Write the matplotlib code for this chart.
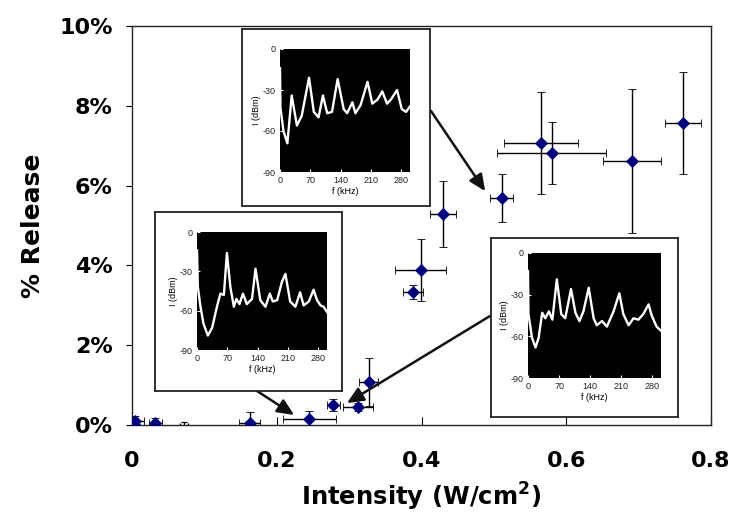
import matplotlib
matplotlib.use("Agg")
import matplotlib.pyplot as plt
from matplotlib.ticker import PercentFormatter

plt.rcParams['font.family'] = ['DejaVu Sans']
plt.rcParams['axes.unicode_minus'] = False

# ---------------- data ----------------
intensity = [0.004, 0.003, 0.032, 0.163, 0.245, 0.278, 0.312, 0.327, 0.388,
             0.399, 0.430, 0.511, 0.565, 0.580, 0.691, 0.761]
release = [0.0010, 0.0003, 0.0005, 0.0005, 0.0015, 0.0050, 0.0045, 0.0108,
           0.0333, 0.0388, 0.0529, 0.0569, 0.0707, 0.0682, 0.0662, 0.0757]
intensity_err = [0.012, 0.004, 0.009, 0.0145, 0.037, 0.009, 0.021, 0.013,
                 0.014, 0.035, 0.018, 0.016, 0.051, 0.075, 0.040, 0.025]
release_err = [0.0012, 0.0005, 0.0013, 0.0028, 0.0020, 0.0015, 0.0010, 0.0060,
               0.0018, 0.0078, 0.0083, 0.0061, 0.0128, 0.0078, 0.0180, 0.0127]

# point whose marker is hidden (only error bars visible)
hidden_x = [0.072]
hidden_y = [-0.0002]
hidden_xerr = [0.0055]
hidden_yerr = [0.0010]

x_ticks = [0, 0.2, 0.4, 0.6, 0.8]
x_tick_labels = ['0', '0.2', '0.4', '0.6', '0.8']
y_ticks = [0, 0.02, 0.04, 0.06, 0.08, 0.10]

# spectra shown in the insets (frequency kHz, level dBm)
specA_f = [0, 1, 8, 17, 27, 39, 50, 67, 78, 89, 99, 109, 120, 133, 147, 155,
           167, 174, 186, 202, 213, 225, 236, 247, 256, 270, 281, 291, 300]
specA_db = [-14, -43, -60, -69, -34, -56, -49, -21, -46, -50, -34, -47, -46,
            -22, -44, -47, -39, -47, -41, -24, -40, -37, -31, -40, -37, -30,
            -44, -46, -42]

specB_f = [0, 2, 8, 15, 25, 35, 46, 54, 62, 69, 77, 85, 91, 98, 106, 115, 127,
           135, 146, 158, 168, 175, 185, 196, 204, 215, 227, 238, 246, 258,
           269, 277, 285, 292, 300]
specB_db = [-14, -42, -57, -70, -79, -73, -57, -47, -48, -16, -42, -57, -51,
            -55, -47, -55, -51, -28, -52, -57, -47, -53, -52, -38, -32, -53,
            -57, -46, -56, -53, -44, -52, -56, -57, -61]

specC_f = [0, 1, 9, 17, 24, 32, 39, 47, 55, 65, 75, 84, 97, 107, 116, 125,
           137, 148, 155, 167, 178, 193, 206, 215, 227, 238, 249, 260, 272,
           279, 290, 300]
specC_db = [-13, -44, -61, -68, -61, -43, -47, -42, -48, -19, -44, -47, -26,
            -43, -49, -42, -25, -47, -52, -49, -53, -42, -29, -44, -52, -47,
            -48, -44, -37, -45, -53, -56]

spec_xticks = [0, 70, 140, 210, 280]
spec_yticks = [0, -30, -60, -90]

# ---------------- figure ----------------
W, H = 730, 518
fig = plt.figure(figsize=(W / 100, H / 100), dpi=100)


def px_rect(x0, y0, x1, y1):
    return [x0 / W, 1 - y1 / H, (x1 - x0) / W, (y1 - y0) / H]


ax = fig.add_axes(px_rect(132, 26, 711, 425))
navy = '#00007A'
ax.errorbar(intensity, release, xerr=intensity_err, yerr=release_err,
            fmt='D', color=navy, markersize=6, markeredgewidth=0.6,
            markeredgecolor=navy, ecolor='black', elinewidth=1.0,
            capsize=3, capthick=1.0, zorder=3)
ax.errorbar(hidden_x, hidden_y, xerr=hidden_xerr, yerr=hidden_yerr,
            fmt='none', ecolor='black', elinewidth=0.9, capsize=2.5,
            capthick=0.9, zorder=3)

ax.set_xlim(0, 0.8)
ax.set_ylim(0, 0.10)
ax.set_xticks(x_ticks)
ax.set_xticklabels(x_tick_labels)
ax.set_yticks(y_ticks)
ax.yaxis.set_major_formatter(PercentFormatter(1.0, decimals=0))
ax.tick_params(axis='x', direction='in', length=6, width=0.8, pad=19,
               labelsize=16)
ax.tick_params(axis='y', direction='out', length=4, width=0.8, pad=10,
               labelsize=16)
for lab in ax.get_xticklabels() + ax.get_yticklabels():
    lab.set_fontweight('bold')
for s in ax.spines.values():
    s.set_linewidth(1.0)
    s.set_color('#222222')
ax.set_xlabel('Intensity (W/cm$^\\mathbf{2}$)', fontsize=17.5,
              fontweight='bold', labelpad=7)
ax.set_ylabel('% Release', fontsize=18, fontweight='bold', labelpad=10)


def add_inset(frame, plot, f, db):
    fr = fig.add_axes(px_rect(*frame))
    fr.set_xticks([])
    fr.set_yticks([])
    fr.set_facecolor('white')
    for s in fr.spines.values():
        s.set_linewidth(1.3)
        s.set_color('#222222')
    fr.set_zorder(5)
    ia = fig.add_axes(px_rect(*plot))
    ia.set_zorder(6)
    ia.set_facecolor('black')
    ia.plot(f, db, color='white', lw=1.7)
    ia.set_xlim(0, 300)
    ia.set_ylim(-90, 0)
    ia.set_xticks(spec_xticks)
    ia.set_yticks(spec_yticks)
    ia.tick_params(direction='in', length=2.5, color='white', labelsize=6.5,
                   pad=3, labelcolor='#222222')
    for lab in ia.get_xticklabels() + ia.get_yticklabels():
        lab.set_fontfamily('Liberation Sans')
    for s in ia.spines.values():
        s.set_visible(False)
    ia.set_xlabel('f (kHz)', fontsize=6.5, family='Liberation Sans', labelpad=1)
    ia.set_ylabel('I (dBm)', fontsize=6.5, family='Liberation Sans', labelpad=1)
    return ia


add_inset((242, 29, 430, 206), (280, 49, 410, 172), specA_f, specA_db)
add_inset((155, 212, 342, 391), (197, 232, 327, 350), specB_f, specB_db)
add_inset((491, 238, 678, 417), (528, 253, 661, 378), specC_f, specC_db)

# arrows from insets to data region
arrow_starts_px = [(431, 111), (257, 391), (490, 316)]
arrow_tips = [(0.488, 0.0586), (0.224, 0.0025), (0.297, 0.0055)]
for (sx, sy), tip in zip(arrow_starts_px, arrow_tips):
    ax.annotate('', xy=tip, xycoords='data',
                xytext=(sx / W, 1 - sy / H), textcoords='figure fraction',
                arrowprops=dict(arrowstyle='-|>,head_length=1.0,head_width=0.45',
                                mutation_scale=10, color='#111111', lw=1.8,
                                shrinkA=0, shrinkB=0),
                zorder=7, annotation_clip=False)

fig.savefig('out.png', dpi=100)
